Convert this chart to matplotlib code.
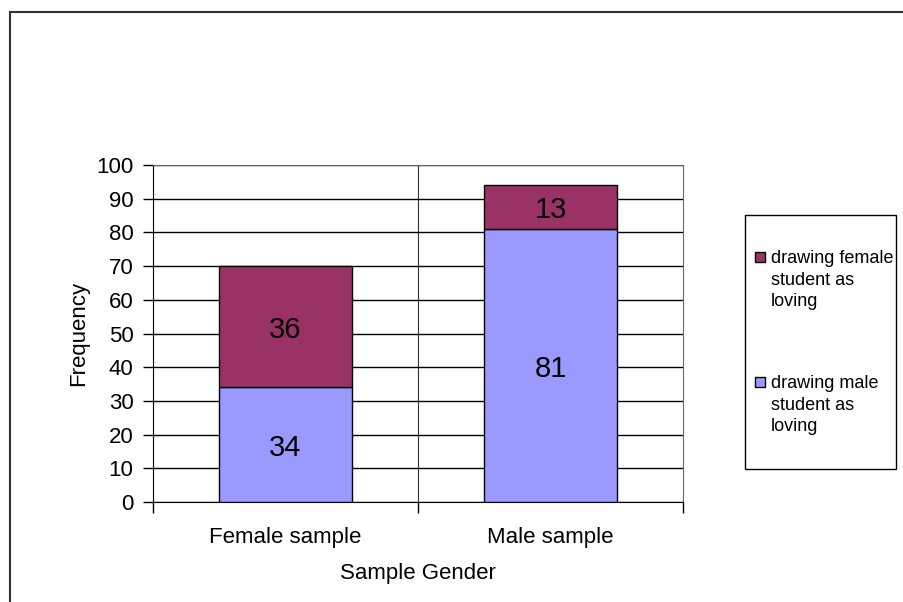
import matplotlib.pyplot as plt
from matplotlib.lines import Line2D
from matplotlib.patches import Rectangle
import numpy as np

plt.rcParams['font.family'] = ['Liberation Sans', 'DejaVu Sans']

categories = ['Female sample', 'Male sample']
male_loving = [34, 81]      # drawing male student as loving
female_loving = [36, 13]    # drawing female student as loving
yticks = np.arange(0, 101, 10)
legend_labels = ['drawing female\nstudent as\nloving', 'drawing male\nstudent as\nloving']

blue = '#9999ff'
maroon = '#993366'

W, H = 904, 602
fig = plt.figure(figsize=(W / 100, H / 100), dpi=100)

def fx(px):
    return px / W

def fy(py):
    return 1 - py / H

# outer chart-area frame (top and left edges only visible)
fig.add_artist(Line2D([fx(10), 1], [fy(12), fy(12)], color='#333333', lw=1.5))
fig.add_artist(Line2D([fx(10), fx(10)], [0, fy(12)], color='#333333', lw=1.5))

ax = fig.add_axes([fx(153), fy(502), 530 / W, 337 / H])

ind = np.arange(len(categories))
width = 0.5
p1 = ax.bar(ind, male_loving, width, color=blue, edgecolor='black', lw=1, zorder=3)
p2 = ax.bar(ind, female_loving, width, bottom=male_loving, color=maroon,
            edgecolor='black', lw=1, zorder=3)

for bars, vals, bots in ((p1, male_loving, [0, 0]), (p2, female_loving, male_loving)):
    for b, v, s in zip(bars, vals, bots):
        ax.text(b.get_x() + b.get_width() / 2, s + v / 2, str(v),
                ha='center', va='center_baseline', fontsize=21, zorder=4)

ax.set_xlim(-0.5, 1.5)
ax.set_ylim(0, 100)
ax.set_yticks(yticks)
ax.tick_params(axis='y', direction='out', length=7, width=1, labelsize=16, pad=7)
ax.set_xticks(ind)
ax.set_xticklabels(categories)
ax.tick_params(axis='x', length=0, labelsize=16, pad=18)
ax.set_xticks([-0.5, 0.5, 1.5], minor=True)
ax.tick_params(axis='x', which='minor', direction='out', length=8, width=1)

ax.grid(axis='y', color='black', lw=1, zorder=0)
ax.axvline(0.5, color='#333333', lw=0.8, zorder=0)

for side in ('top', 'right'):
    ax.spines[side].set_color('#666666')
ax.spines['left'].set_color('black')
ax.spines['bottom'].set_color('black')

ax.set_ylabel('Frequency', fontsize=16, labelpad=5)
ax.set_xlabel('Sample Gender', fontsize=16, labelpad=11)

# legend box, drawn by hand so the swatches sit on the first text line
fig.add_artist(Rectangle((fx(745), fy(469)), (896 - 745) / W, (469 - 215) / H,
                         transform=fig.transFigure, facecolor='white',
                         edgecolor='black', lw=1))
for i, (lab, col) in enumerate(zip(legend_labels, [maroon, blue])):
    top = 252 + i * 125
    fig.add_artist(Rectangle((fx(755), fy(top + 10)), 10 / W, 10 / H,
                             transform=fig.transFigure, facecolor=col,
                             edgecolor='black', lw=1))
    fig.text(fx(771), fy(top - 2), lab, ha='left', va='top',
             fontsize=13, linespacing=1.36)

fig.savefig('out.png', dpi=100)
